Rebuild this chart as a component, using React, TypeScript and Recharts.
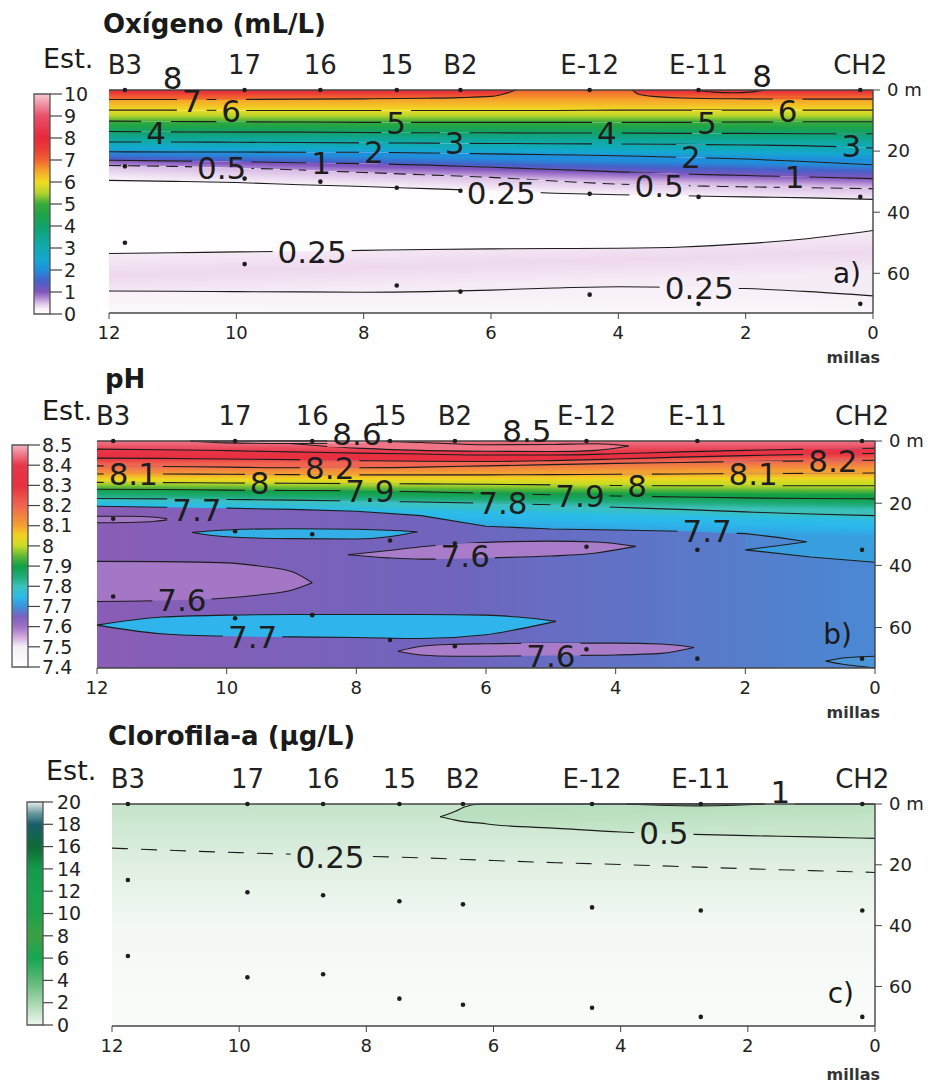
import React from 'react';
import { ComposedChart, Area, Line, Scatter, XAxis, YAxis, ReferenceArea, ReferenceDot } from 'recharts';

const FONT = '"DejaVu Sans", Verdana, sans-serif';
const INK = '#1d1d1d';
const AXIS = '#444444';

// stations and sampled depths (same grid in the three sections)
const stationNames = ['B3', '17', '16', '15', 'B2', 'E-12', 'E-11', 'CH2'];
const stationMiles = [11.75, 9.87, 8.68, 7.48, 6.48, 4.45, 2.74, 0.2];
const midDepths = [25, 29, 30, 32, 33, 34, 35, 35];
const deepDepths = [50, 57, 56, 64, 66, 67, 70, 70];

const milesTicks = [0, 2, 4, 6, 8, 10, 12];
const depthTicks = [0, 20, 40, 60];
const maxDepth = 73;

// contour depths (m) read along the section at these distances (millas)
const grid = [12, 11, 10, 9, 8, 7, 6, 5, 4, 3, 2, 1, 0];

// ---------- a) oxygen ----------
const oxC7a = { x: [12, 11, 10, 9, 8, 7, 6.5, 6.0, 5.8, 5.6], d: [3.1, 3.1, 3.1, 3.0, 2.9, 2.7, 2.5, 2.1, 1.3, 0] };
const oxC7b = { x: [3.78, 3.7, 3.5, 3.0, 2.0, 1.0, 0], d: [0, 1.2, 2.0, 2.6, 2.9, 3.0, 3.0] };
const oxC8 = { x: [2.8, 2.5, 2.2, 1.9, 1.7], d: [0, 0.7, 0.9, 0.6, 0] };
const oxC6 = [6.6, 6.6, 6.7, 6.7, 6.7, 6.7, 6.7, 6.7, 6.6, 6.6, 6.6, 6.6, 6.6];
const oxC5 = [10.2, 10.3, 10.4, 10.5, 10.6, 10.6, 10.6, 10.6, 10.6, 10.6, 10.5, 10.4, 10.4];
const oxC4 = [13.6, 13.7, 13.8, 13.8, 13.9, 14.0, 14.0, 14.1, 14.1, 14.2, 14.2, 14.3, 14.3];
const oxC3 = [17.0, 17.0, 17.1, 17.2, 17.3, 17.4, 17.5, 17.6, 17.7, 17.8, 18.0, 18.3, 19.0];
const oxC2 = [20.2, 20.3, 20.3, 20.4, 20.4, 20.6, 20.9, 21.2, 21.5, 22.0, 22.6, 23.5, 24.5];
const oxC1 = [23.0, 23.2, 23.5, 23.8, 24.1, 24.6, 25.3, 26.0, 26.8, 27.5, 28.0, 28.5, 29.0];
const oxC05 = [24.7, 25.0, 25.5, 26.2, 27.0, 27.8, 28.6, 29.8, 30.8, 31.3, 31.7, 32.0, 32.3];
const oxC025a = [29.6, 29.9, 30.3, 31.0, 31.6, 32.3, 33.0, 33.8, 34.3, 34.6, 35.0, 35.3, 35.8];
const oxC025b = [53.5, 53.3, 53.0, 52.8, 52.5, 52.2, 52.0, 51.9, 51.8, 51.4, 50.3, 48.6, 46.0];
const oxC025c = [65.8, 65.9, 66.0, 66.1, 66.2, 66.0, 65.5, 64.8, 64.4, 64.6, 65.0, 66.0, 67.4];
const oxLabels: [number, number, string][] = [
  [11.0, -4.1, '8'], [10.7, 3.6, '7'], [10.08, 6.9, '6'], [11.26, 14.0, '4'], [7.49, 10.8, '5'],
  [6.57, 17.4, '3'], [7.84, 20.4, '2'], [8.67, 24.0, '1'], [10.23, 25.5, '0.5'], [5.84, 33.6, '0.25'],
  [8.81, 53.0, '0.25'], [4.18, 14.1, '4'], [2.61, 10.8, '5'], [1.34, 6.9, '6'], [1.74, -4.6, '8'],
  [0.34, 18.4, '3'], [2.86, 22.0, '2'], [1.23, 28.3, '1'], [3.36, 31.3, '0.5'], [2.73, 64.8, '0.25'],
];
const oxTicks = [0, 1, 2, 3, 4, 5, 6, 7, 8, 9, 10];

// ---------- b) pH ----------
const phC84 = [2.6, 2.8, 3.1, 3.5, 3.9, 4.2, 4.5, 4.5, 4.1, 3.5, 3.0, 2.6, 2.3];
const phC83 = [5.5, 5.6, 5.8, 6.0, 6.3, 6.5, 6.6, 6.3, 5.8, 5.2, 4.7, 4.3, 4.0];
const phC82 = [8.0, 8.2, 8.4, 8.6, 8.6, 8.4, 8.0, 7.6, 7.2, 6.9, 6.6, 6.4, 6.2];
const phC81 = [10.6, 10.6, 10.7, 10.8, 10.9, 10.9, 10.9, 10.8, 10.7, 10.6, 10.5, 10.4, 10.3];
const phC80 = [13.3, 13.4, 13.5, 13.6, 13.7, 13.8, 13.9, 14.1, 14.3, 14.4, 14.4, 14.4, 14.4];
const phC79 = [15.5, 15.6, 15.8, 15.9, 16.0, 16.3, 16.8, 17.3, 17.7, 18.0, 18.3, 18.5, 18.6];
const phC78 = [18.5, 18.6, 18.8, 19.0, 19.3, 19.6, 20.0, 20.5, 21.3, 22.0, 22.8, 23.5, 24.0];
// 7.7 isoline folds back near the coast
const phS1 = { x: [12, 11, 10, 9, 8, 7, 6, 5, 4, 3, 2, 1.5, 1.05], d: [21.0, 21.3, 21.6, 22.0, 22.6, 24.0, 27.4, 28.3, 28.6, 29.0, 29.8, 31.0, 32.4] };
const phS2 = { x: [1.05, 1.5, 2.0], d: [32.4, 33.7, 35.0] };
const phS3 = { x: [2.0, 1.0, 0], d: [35.0, 37.3, 39.0] };
const ph86 = { x: [10.56, 10, 9, 8, 7.48], lo: [0, 0.6, 0.8, 0.7, 0] };
const ph85 = { x: [9.5, 8, 7, 6, 5, 4.3, 3.8], up: [0, 0, 0.5, 1.2, 1.1, 0.9, 1.6], lo: [0, 2.3, 3.0, 3.3, 3.4, 3.0, 1.6] };
const phL1 = { x: [12, 11.5, 11.1, 10.87], up: [24.2, 24.2, 24.5, 25.2], lo: [26.3, 26.2, 25.8, 25.2] };
const phL2 = { x: [10.53, 10, 9, 8, 7.5, 7.06], up: [29.4, 28.6, 28.2, 28.4, 28.7, 29.2], lo: [29.4, 30.8, 31.4, 31.5, 30.8, 29.2] };
const phL3 = { x: [8.13, 7.5, 7, 6.5, 6, 5, 4.3, 3.69], up: [36.6, 35.2, 34.0, 33.2, 32.6, 32.2, 32.5, 33.9], lo: [36.6, 37.6, 38.0, 37.9, 37.6, 37.0, 36.0, 33.9] };
const phL4 = { x: [12, 11, 10, 9.5, 9, 8.68], up: [38.7, 38.8, 39.2, 40.2, 42.0, 45.6], lo: [51.6, 51.3, 50.5, 49.5, 48.0, 45.6] };
const phL5 = { x: [12, 11, 10, 9, 8, 7, 6, 5.5, 4.92], up: [59.2, 56.6, 56.0, 55.8, 55.8, 55.8, 56.0, 56.6, 58.0], lo: [59.2, 62.0, 62.8, 63.0, 63.2, 63.5, 62.3, 60.5, 58.0] };
const phL6 = { x: [7.36, 7, 6.5, 6, 5, 4, 3.3, 2.79], up: [67.6, 66.0, 65.4, 65.2, 65.0, 65.0, 65.3, 66.4], lo: [67.6, 68.8, 69.2, 69.2, 69.0, 68.8, 68.3, 66.4] };
const phL7 = { x: [0.76, 0.5, 0.2, 0], up: [70.8, 69.8, 69.4, 69.2], lo: [70.8, 71.8, 72.5, 73.0] };
const phLabels: [number, number, string][] = [
  [7.99, -2.2, '8.6'], [5.37, -3.2, '8.5'], [11.44, 10.6, '8.1'], [9.49, 13.5, '8'], [8.41, 8.7, '8.2'],
  [7.79, 16.0, '7.9'], [10.46, 22.0, '7.7'], [5.74, 19.9, '7.8'], [4.55, 17.6, '7.9'], [3.67, 14.4, '8'],
  [1.88, 10.6, '8.1'], [0.65, 6.4, '8.2'], [2.59, 29.0, '7.7'], [6.32, 37.0, '7.6'], [10.69, 51.0, '7.6'],
  [9.6, 63.0, '7.7'], [5.0, 69.0, '7.6'],
];
const phTicks = [7.4, 7.5, 7.6, 7.7, 7.8, 7.9, 8, 8.1, 8.2, 8.3, 8.4, 8.5];

// ---------- c) chlorophyll ----------
const chC05 = { x: [6.84, 6.6, 6.46, 6.2, 6, 5, 4, 3, 2, 1, 0], up: [4.2, 2.4, 1.0, 0, 0, 0, 0, 0, 0, 0, 0], lo: [4.2, 5.3, 5.8, 6.3, 6.8, 8.0, 9.2, 9.9, 10.4, 10.8, 11.3] };
const chC1 = { x: [3.9, 3.4, 2.8, 2.2, 1.75], lo: [0, 0.4, 0.6, 0.4, 0] };
const chC025 = [14.5, 15.3, 16.0, 16.6, 17.2, 17.8, 18.6, 19.3, 19.9, 20.6, 21.3, 21.9, 22.5];
const chLabels: [number, number, string][] = [[1.49, -3.9, '1'], [3.32, 9.5, '0.5'], [8.57, 17.4, '0.25']];
const chTicks = [0, 2, 4, 6, 8, 10, 12, 14, 16, 18, 20];

// ---------- colour scales ----------
type Stop = [number, string];
const oxStops: Stop[] = [
  [0, '#ffffff'], [0.25, '#f7eef7'], [0.5, '#d9bde6'], [0.75, '#ae86d0'], [1, '#7f56bd'], [1.5, '#4660c8'],
  [2, '#1f8fdc'], [2.5, '#14a8d0'], [3, '#10aab0'], [3.5, '#0fa690'], [4, '#12a26a'], [4.5, '#1ea448'],
  [5, '#3aaa3c'], [5.5, '#b4d42c'], [6, '#f0dc22'], [6.5, '#f6a52a'], [7, '#f0622e'], [7.5, '#ea3c36'],
  [8, '#e6283c'], [9, '#e8506a'], [10, '#f6cad6'],
];
const phStops: Stop[] = [
  [7.4, '#ffffff'], [7.5, '#f6f0f8'], [7.55, '#cfa8dc'], [7.6, '#a070c4'], [7.65, '#7a62bc'], [7.7, '#3c92da'],
  [7.75, '#2cbce8'], [7.8, '#3cc0b8'], [7.85, '#1eaa78'], [7.9, '#12a046'], [7.95, '#60b836'], [8.0, '#c8dc24'],
  [8.05, '#f2d420'], [8.1, '#f4a032'], [8.2, '#ef6550'], [8.3, '#e83040'], [8.4, '#e8364a'], [8.5, '#f2b4c2'],
];
const chlStops: Stop[] = [
  [0, '#eef7ef'], [2, '#a6d6ae'], [4, '#5cb874'], [6, '#17a652'], [8, '#3ea043'], [10, '#1da24c'],
  [12, '#17a04e'], [14, '#159a4c'], [16, '#0f6a36'], [18, '#1a5e6a'], [19, '#6a9aa0'], [20, '#e6efef'],
];

const toRgb = (h: string) => {
  const n = parseInt(h.slice(1), 16);
  return [(n >> 16) & 255, (n >> 8) & 255, n & 255];
};
function cmap(stops: Stop[], v: number) {
  if (v <= stops[0][0]) return stops[0][1];
  for (let i = 1; i < stops.length; i++) {
    if (v <= stops[i][0]) {
      const [v0, c0] = stops[i - 1];
      const [v1, c1] = stops[i];
      const t = (v - v0) / (v1 - v0);
      const a = toRgb(c0), b = toRgb(c1);
      const m = a.map((x, k) => Math.round(x + (b[k] - x) * t));
      return `rgb(${m[0]},${m[1]},${m[2]})`;
    }
  }
  return stops[stops.length - 1][1];
}
const ramp = (stops: Stop[], vTop: number, vBot: number) =>
  [0, 0.25, 0.5, 0.75, 1].map((f) => cmap(stops, vTop + (vBot - vTop) * f));

// ---------- drawing helpers ----------
type Band = { id: string; xs: number[]; up: number[]; lo: number[]; colors: string[]; line?: boolean; curve?: 'monotone' | 'linear' };
type Geo = { top: number; h: number; left: number; right: number; pTop: number; pBot: number };

// gradient running across the band (bounding-box units)
function orient(up: number[], lo: number[]) {
  const minY = Math.min(...up), maxY = Math.max(...lo);
  const span = maxY - minY || 1;
  const f = (v: number) => (v - minY) / span;
  const uL = f(up[0]), uR = f(up[up.length - 1]);
  const s = uR - uL;
  const t = lo.reduce((a, v, i) => a + (v - up[i]), 0) / lo.length / span;
  const k = t / (1 + s * s);
  const y1 = (uL + uR) / 2;
  return { x1: 0.5, y1, x2: 0.5 - s * k, y2: y1 + k };
}

function bandDef(b: Band) {
  if (b.colors.length < 2) return null;
  const g = orient(b.up, b.lo);
  return (
    <linearGradient key={b.id} id={b.id} x1={g.x1} y1={g.y1} x2={g.x2} y2={g.y2}>
      {b.colors.map((c, i) => (
        <stop key={i} offset={i / (b.colors.length - 1)} stopColor={c} />
      ))}
    </linearGradient>
  );
}

function bandArea(b: Band, mask: string) {
  const data = b.xs.map((x, i) => ({ x, r: [b.up[i], b.lo[i]] }));
  const common = { data, dataKey: 'r', type: b.curve ?? 'monotone', dot: false, activeDot: false, isAnimationActive: false } as any;
  const out = [
    <Area key={b.id} {...common} fill={b.colors.length < 2 ? b.colors[0] : `url(#${b.id})`} fillOpacity={1} stroke="none" />,
  ];
  if (b.line) {
    out.push(<Area key={b.id + '-o'} {...common} fill="none" stroke={INK} strokeWidth={1.1} mask={`url(#${mask})`} />);
  }
  return out;
}

function contour(key: string, mask: string, xs: number[], ds: number[], dash?: string, curve: 'monotone' | 'linear' = 'monotone') {
  return (
    <Line
      key={key}
      data={xs.map((x, i) => ({ x, d: ds[i] }))}
      dataKey="d"
      type={curve}
      stroke={INK}
      strokeWidth={1.1}
      strokeDasharray={dash}
      mask={`url(#${mask})`}
      dot={false}
      activeDot={false}
      isAnimationActive={false}
    />
  );
}

const LABEL_FS = 31;
const labelWidth = (text: string) => [...text].reduce((a, ch) => a + (ch === '.' ? 0.318 : 0.636), 0) * LABEL_FS;

function ContourText({ cx, cy, text }: { cx: number; cy: number; text: string }) {
  return (
    <text x={cx} y={cy + 0.36 * LABEL_FS} textAnchor="middle" fontFamily={FONT} fontSize={LABEL_FS} fill={INK}>
      {text}
    </text>
  );
}

function labels(prefix: string, list: [number, number, string][]) {
  return list.map(([x, d, t], i) => (
    <ReferenceDot key={prefix + i} x={x} y={d} r={0} ifOverflow="visible"
      shape={(p: any) => <ContourText cx={p.cx} cy={p.cy} text={t} />} />
  ));
}

// mask that opens a gap in the isolines behind each label
function labelMask(id: string, g: Geo, list: [number, number, string][]) {
  const ph = g.pBot - g.pTop;
  return (
    <mask key={id} id={id} maskUnits="userSpaceOnUse" x={-10} y={-10} width={950} height={g.h + 20}>
      <rect x={-10} y={-10} width={950} height={g.h + 20} fill="#fff" />
      {list.map(([x, d, t], i) => {
        const cx = g.left + ((12 - x) / 12) * (g.right - g.left);
        const cy = g.pTop - g.top + (d / maxDepth) * ph;
        const w = labelWidth(t) + 10;
        return <rect key={i} x={cx - w / 2} y={cy - 13} width={w} height={26} fill="#000" />;
      })}
    </mask>
  );
}

const dotShape = (p: any) => <circle cx={p.cx} cy={p.cy} r={2.3} fill={INK} />;
const topDots = stationMiles.map((x) => ({ x, d: 0 }));
const lowDots = [...stationMiles.map((x, i) => ({ x, d: midDepths[i] })), ...stationMiles.map((x, i) => ({ x, d: deepDepths[i] }))];

function samplingDots(prefix: string) {
  return [
    <Scatter key={prefix + 'top'} data={topDots} dataKey="d" xAxisId="top" shape={dotShape} isAnimationActive={false} />,
    <Scatter key={prefix + 'low'} data={lowDots} dataKey="d" shape={dotShape} isAnimationActive={false} />,
  ];
}

const zerosOf = (xs: number[]) => xs.map(() => 0);
const bottomOf = (xs: number[]) => xs.map(() => maxDepth);

function Panel({ g, defs, children }: { g: Geo; defs: any; children: any }) {
  const tick = { fontFamily: FONT, fontSize: 18, fill: '#222' };
  const line = { stroke: AXIS, strokeWidth: 1.4 };
  return (
    <div style={{ position: 'absolute', left: 0, top: g.top, width: 928, height: g.h }}>
      <ComposedChart
        width={928}
        height={g.h}
        margin={{ top: g.pTop - g.top - 30, bottom: g.top + g.h - g.pBot - 24, left: g.left, right: 928 - g.right - 50 }}
      >
        <defs>{defs}</defs>
        <XAxis dataKey="x" type="number" domain={[0, 12]} reversed ticks={milesTicks} interval={0} height={24}
          tickSize={6} tickMargin={7} axisLine={line} tickLine={{ stroke: AXIS }} tick={tick} />
        <XAxis xAxisId="top" orientation="top" dataKey="x" type="number" domain={[0, 12]} reversed ticks={stationMiles}
          interval={0} height={30} tickSize={0} tickMargin={16} axisLine={line} tickLine={false}
          tickFormatter={(v: number) => stationNames[stationMiles.indexOf(v)]}
          tick={{ fontFamily: FONT, fontSize: 26, fill: '#222' }} />
        <YAxis orientation="right" type="number" domain={[0, maxDepth]} reversed ticks={depthTicks} interval={0} width={50}
          tickSize={7} tickMargin={7} axisLine={line} tickLine={{ stroke: AXIS }} tick={tick}
          tickFormatter={(v: number) => (v === 0 ? '0 m' : String(v))} />
        <YAxis yAxisId="left" orientation="left" type="number" domain={[0, maxDepth]} reversed width={0}
          tick={false} tickLine={false} axisLine={line} />
        {children}
      </ComposedChart>
    </div>
  );
}

function ColorBar({ id, left, top, height, min, max, ticks, stops, tickSize, tickMargin }: any) {
  const W = 120, yW = 70, barW = 16;
  const sorted = [...stops].sort((a: Stop, b: Stop) => b[0] - a[0]);
  return (
    <div style={{ position: 'absolute', left: 0, top: top - 10, width: W, height: height + 20 }}>
      <ComposedChart width={W} height={height + 20} margin={{ top: 10, bottom: 10, left, right: W - left - barW - yW }}>
        <defs>
          <linearGradient id={id} x1="0" y1="0" x2="0" y2="1">
            {sorted.map(([v, c]: Stop, i: number) => (
              <stop key={i} offset={(max - v) / (max - min)} stopColor={c} />
            ))}
          </linearGradient>
        </defs>
        <XAxis type="number" dataKey="x" domain={[0, 1]} hide />
        <YAxis orientation="right" type="number" domain={[min, max]} ticks={ticks} interval={0} width={yW}
          tickSize={tickSize} tickMargin={tickMargin} axisLine={false} tickLine={{ stroke: AXIS, strokeWidth: 1.2 }}
          tick={{ fontFamily: FONT, fontSize: 19, fill: '#222' }} tickFormatter={(v: number) => String(v)} />
        <Area data={[{ x: 0, r: [min, max] }, { x: 1, r: [min, max] }]} dataKey="r" type="linear"
          fill={`url(#${id})`} fillOpacity={1} stroke="none" dot={false} activeDot={false} isAnimationActive={false} />
        <ReferenceArea x1={0} x2={1} y1={min} y2={max} fill="none" stroke="#555" strokeWidth={1.3} ifOverflow="visible" />
      </ComposedChart>
    </div>
  );
}

// ---------- bands ----------
const oxBands: Band[] = [
  { id: 'ox-76', xs: grid, up: zerosOf(grid), lo: oxC6, colors: ramp(oxStops, 7, 6) },
  { id: 'ox-8a', xs: oxC7a.x, up: zerosOf(oxC7a.x), lo: oxC7a.d, colors: ramp(oxStops, 7.9, 7) },
  { id: 'ox-8b', xs: oxC7b.x, up: zerosOf(oxC7b.x), lo: oxC7b.d, colors: ramp(oxStops, 7.9, 7) },
  { id: 'ox-65', xs: grid, up: oxC6, lo: oxC5, colors: ramp(oxStops, 6, 5) },
  { id: 'ox-54', xs: grid, up: oxC5, lo: oxC4, colors: ramp(oxStops, 5, 4) },
  { id: 'ox-43', xs: grid, up: oxC4, lo: oxC3, colors: ramp(oxStops, 4, 3) },
  { id: 'ox-32', xs: grid, up: oxC3, lo: oxC2, colors: ramp(oxStops, 3, 2) },
  { id: 'ox-21', xs: grid, up: oxC2, lo: oxC1, colors: ramp(oxStops, 2, 1) },
  { id: 'ox-105', xs: grid, up: oxC1, lo: oxC05, colors: ramp(oxStops, 1, 0.5) },
  { id: 'ox-05025', xs: grid, up: oxC05, lo: oxC025a, colors: ramp(oxStops, 0.5, 0.25) },
  { id: 'ox-low', xs: grid, up: oxC025a, lo: oxC025b, colors: ['#fffdff'] },
  { id: 'ox-pink', xs: grid, up: oxC025b, lo: oxC025c, colors: ['#f6ecf6', '#eed8ee', '#f6ecf6'] },
  { id: 'ox-deep', xs: grid, up: oxC025c, lo: bottomOf(grid), colors: ['#f8f0f8', '#fcf9fc'] },
];

const cyanX = [...phS1.x.slice(0, 11), ...phS3.x];
const cyanUp = [...phC78.slice(0, 11), phC78[10], phC78[11], phC78[12]];
const cyanLo = [...phS1.d.slice(0, 11), ...phS3.d];

const phBands: Band[] = [
  { id: 'ph-845', xs: grid, up: zerosOf(grid), lo: phC84, colors: ramp(phStops, 8.45, 8.4) },
  { id: 'ph-8483', xs: grid, up: phC84, lo: phC83, colors: ramp(phStops, 8.4, 8.3) },
  { id: 'ph-8382', xs: grid, up: phC83, lo: phC82, colors: ramp(phStops, 8.3, 8.2) },
  { id: 'ph-8281', xs: grid, up: phC82, lo: phC81, colors: ramp(phStops, 8.2, 8.1) },
  { id: 'ph-8180', xs: grid, up: phC81, lo: phC80, colors: ramp(phStops, 8.1, 8.0) },
  { id: 'ph-8079', xs: grid, up: phC80, lo: phC79, colors: ramp(phStops, 8.0, 7.9) },
  { id: 'ph-7978', xs: grid, up: phC79, lo: phC78, colors: ramp(phStops, 7.9, 7.8) },
  { id: 'ph-7877', xs: cyanX, up: cyanUp, lo: cyanLo, colors: ['#38c0c2', '#2cbde6', '#2bb8ea', '#2eaee8', '#389fdf'], curve: 'linear' },
];
const phLenses: Band[] = [
  { id: 'ph-wedge', xs: phS1.x.slice(10), up: phS1.d.slice(10), lo: [...phS2.d].reverse(), colors: ['#4f86d2'], curve: 'linear' },
  { id: 'ph-85', xs: ph85.x, up: ph85.up, lo: ph85.lo, colors: ['#ee7486'], line: true },
  { id: 'ph-86', xs: ph86.x, up: zerosOf(ph86.x), lo: ph86.lo, colors: ['#f3a2b2'], line: true },
  { id: 'ph-L1', xs: phL1.x, up: phL1.up, lo: phL1.lo, colors: ['#a476c6'], line: true },
  { id: 'ph-L2', xs: phL2.x, up: phL2.up, lo: phL2.lo, colors: ['#34aee6'], line: true },
  { id: 'ph-L3', xs: phL3.x, up: phL3.up, lo: phL3.lo, colors: ['#a97cc9'], line: true },
  { id: 'ph-L4', xs: phL4.x, up: phL4.up, lo: phL4.lo, colors: ['#a477c6'], line: true },
  { id: 'ph-L5', xs: phL5.x, up: phL5.up, lo: phL5.lo, colors: ['#2fb4ec'], line: true },
  { id: 'ph-L6', xs: phL6.x, up: phL6.up, lo: phL6.lo, colors: ['#a97cc9'], line: true },
  { id: 'ph-L7', xs: phL7.x, up: phL7.up, lo: phL7.lo, colors: ['#4a94d8'], line: true },
];

const chBands: Band[] = [
  { id: 'ch-05', xs: chC05.x, up: chC05.up, lo: chC05.lo, colors: ['#b9dfc0', '#c8e6cc'], line: true },
  { id: 'ch-1', xs: chC1.x, up: zerosOf(chC1.x), lo: chC1.lo, colors: ['#b3dcbb'], line: true },
];

const geoA: Geo = { top: 40, h: 320, left: 109, right: 873, pTop: 90, pBot: 313 };
const geoB: Geo = { top: 390, h: 330, left: 97, right: 875, pTop: 441, pBot: 668 };
const geoC: Geo = { top: 750, h: 325, left: 112, right: 875, pTop: 804, pBot: 1026 };

export default function App() {
  const sText = { fontFamily: FONT, fill: '#1a1a1a' };
  return (
    <div style={{ position: 'absolute', left: 0, top: 0, width: 928, height: 1084, background: '#ffffff', overflow: 'hidden' }}>
      <ColorBar id="cb-ox" left={34} top={94} height={220} min={0} max={10} ticks={oxTicks} stops={oxStops} tickSize={12} tickMargin={2} />
      <ColorBar id="cb-ph" left={12} top={445} height={222} min={7.4} max={8.5} ticks={phTicks} stops={phStops} tickSize={12} tickMargin={2} />
      <ColorBar id="cb-ch" left={27} top={802} height={223} min={0} max={20} ticks={chTicks} stops={chlStops} tickSize={10} tickMargin={4} />

      <Panel g={geoA} defs={[...oxBands.map(bandDef), labelMask('m-ox', geoA, oxLabels)]}>
        {oxBands.map((b) => bandArea(b, 'm-ox'))}
        {contour('c7a', 'm-ox', oxC7a.x, oxC7a.d)}
        {contour('c7b', 'm-ox', oxC7b.x, oxC7b.d)}
        {contour('c8', 'm-ox', oxC8.x, oxC8.d)}
        {contour('c6', 'm-ox', grid, oxC6)}
        {contour('c5', 'm-ox', grid, oxC5)}
        {contour('c4', 'm-ox', grid, oxC4)}
        {contour('c3', 'm-ox', grid, oxC3)}
        {contour('c2', 'm-ox', grid, oxC2)}
        {contour('c1', 'm-ox', grid, oxC1)}
        {contour('c05', 'm-ox', grid, oxC05, '12 7')}
        {contour('c025a', 'm-ox', grid, oxC025a)}
        {contour('c025b', 'm-ox', grid, oxC025b)}
        {contour('c025c', 'm-ox', grid, oxC025c)}
        {samplingDots('ox')}
        {labels('oxl', oxLabels)}
      </Panel>

      <Panel
        g={geoB}
        defs={[
          <linearGradient key="phb" id="ph-base" x1="0" y1="0" x2="1" y2="0">
            <stop offset="0" stopColor="#8a5db6" />
            <stop offset="0.45" stopColor="#7064bd" />
            <stop offset="1" stopColor="#4a88d3" />
          </linearGradient>,
          ...phBands.map(bandDef),
          labelMask('m-ph', geoB, phLabels),
        ]}
      >
        <Area data={grid.map((x) => ({ x, r: [0, maxDepth] }))} dataKey="r" type="linear" fill="url(#ph-base)"
          fillOpacity={1} stroke="none" dot={false} activeDot={false} isAnimationActive={false} />
        {phBands.map((b) => bandArea(b, 'm-ph'))}
        {phLenses.map((b) => bandArea(b, 'm-ph'))}
        {contour('p84', 'm-ph', grid, phC84)}
        {contour('p83', 'm-ph', grid, phC83)}
        {contour('p82', 'm-ph', grid, phC82)}
        {contour('p81', 'm-ph', grid, phC81)}
        {contour('p80', 'm-ph', grid, phC80)}
        {contour('p79', 'm-ph', grid, phC79)}
        {contour('p78', 'm-ph', grid, phC78)}
        {contour('p77', 'm-ph', [...phS1.x, ...phS2.x.slice(1), ...phS3.x.slice(1)], [...phS1.d, ...phS2.d.slice(1), ...phS3.d.slice(1)], undefined, 'linear')}
        {samplingDots('ph')}
        {labels('phl', phLabels)}
      </Panel>

      <Panel
        g={geoC}
        defs={[
          <linearGradient key="chb" id="ch-base" x1="0" y1="0" x2="0" y2="1">
            <stop offset="0" stopColor="#c5e4c9" />
            <stop offset="0.27" stopColor="#e0efe2" />
            <stop offset="0.55" stopColor="#f3f9f3" />
            <stop offset="1" stopColor="#fafcfa" />
          </linearGradient>,
          ...chBands.map(bandDef),
          labelMask('m-ch', geoC, chLabels),
        ]}
      >
        <Area data={grid.map((x) => ({ x, r: [0, maxDepth] }))} dataKey="r" type="linear" fill="url(#ch-base)"
          fillOpacity={1} stroke="none" dot={false} activeDot={false} isAnimationActive={false} />
        {chBands.map((b) => bandArea(b, 'm-ch'))}
        {contour('h025', 'm-ch', grid, chC025, '16 13')}
        {samplingDots('ch')}
        {labels('chl', chLabels)}
      </Panel>

      <svg width={928} height={1084} style={{ position: 'absolute', left: 0, top: 0, pointerEvents: 'none' }}>
        <text x={103} y={33} fontFamily={FONT} fontWeight="bold" fontSize={26} fill="#1a1a1a">Oxígeno (mL/L)</text>
        <text x={105} y={388} fontFamily={FONT} fontWeight="bold" fontSize={26} fill="#1a1a1a">pH</text>
        <text x={108} y={745} fontFamily={FONT} fontWeight="bold" fontSize={26} fill="#1a1a1a">Clorofila-a (µg/L)</text>
        <text x={43} y={68} fontSize={27} {...sText}>Est.</text>
        <text x={42} y={420} fontSize={27} {...sText}>Est.</text>
        <text x={46} y={780} fontSize={27} {...sText}>Est.</text>
        <text x={880} y={363} textAnchor="end" fontSize={16} fontWeight="bold" {...sText} fill="#333">millas</text>
        <text x={880} y={718} textAnchor="end" fontSize={16} fontWeight="bold" {...sText} fill="#333">millas</text>
        <text x={880} y={1080} textAnchor="end" fontSize={16} fontWeight="bold" {...sText} fill="#333">millas</text>
        <text x={861} y={283} textAnchor="end" fontSize={28} {...sText}>a)</text>
        <text x={852} y={644} textAnchor="end" fontSize={28} {...sText}>b)</text>
        <text x={854} y={1003} textAnchor="end" fontSize={28} {...sText}>c)</text>
      </svg>
    </div>
  );
}
